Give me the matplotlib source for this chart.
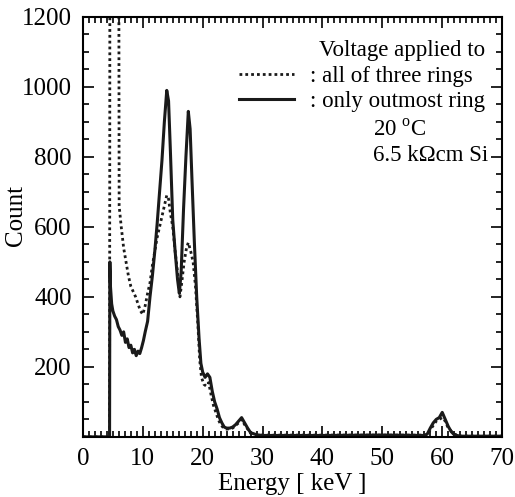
import numpy as np
import matplotlib
matplotlib.use('Agg')
import matplotlib.pyplot as plt
from matplotlib.ticker import MultipleLocator, FixedLocator

# Spectrum: voltage applied only to outmost ring (solid)
energy_outmost = [0, 4.45, 4.5, 4.6, 4.8, 5.0, 5.3, 5.6, 5.9, 6.2, 6.5, 6.8, 7.1,
                  7.4, 7.7, 8.0, 8.3, 8.6, 8.9, 9.2, 9.5, 9.8, 10.1, 10.4, 10.8,
                  11.2, 11.6, 12.0, 12.4, 12.8, 13.2, 13.6, 14.0, 14.3, 14.6,
                  15.0, 15.4, 15.8, 16.1, 16.4, 16.8, 17.2, 17.6, 17.9, 18.2,
                  18.6, 19.0, 19.4, 19.7, 20.0, 20.4, 20.8, 21.2, 21.6, 22.0,
                  22.4, 22.8, 23.2, 23.6, 24.0, 24.5, 25.0, 25.5, 26.0, 26.5,
                  27.0, 27.5, 28.0, 29.0, 30.0, 40.0, 50.0, 57.0, 57.5, 58.0,
                  58.5, 59.0, 59.5, 60.0, 60.5, 61.0, 61.5, 62.0, 63.0, 70.0]
count_outmost = [0, 0, 500, 430, 380, 360, 345, 335, 315, 305, 290, 300, 270,
                 280, 255, 262, 240, 250, 232, 245, 238, 255, 275, 300, 330,
                 400, 460, 530, 610, 700, 790, 900, 990, 960, 820,
                 620, 530, 450, 410, 470, 650, 800, 930, 880, 740,
                 560, 400, 280, 210, 185, 170, 180, 170, 130, 100,
                 80, 55, 40, 28, 25, 25, 28, 35, 45, 55,
                 40, 25, 12, 6, 4, 4, 5, 4, 8, 25,
                 40, 50, 55, 70, 50, 30, 15, 6, 2, 2]

# Voltage applied to all of three rings (dotted)
energy_all = [0, 4.45, 4.5, 6.0, 6.05, 6.4, 6.8, 7.2, 7.6, 8.0, 8.4, 8.8, 9.2,
              9.6, 10.0, 10.4, 10.8, 11.2, 11.6, 12.0, 12.4, 12.8, 13.2, 13.6,
              14.0, 14.3, 14.6, 15.0, 15.4, 15.8, 16.2, 16.5, 16.9, 17.3, 17.6,
              18.0, 18.4, 18.8, 19.2, 19.5, 19.8, 20.2, 20.6, 21.0, 21.4, 21.8,
              22.2, 22.6, 23.0, 23.5, 24.0, 25.0, 26.0, 26.5, 27.0, 28.0, 29.0,
              40.0, 57.5, 58.0, 59.0, 59.5, 60.0, 60.5, 61.0, 62.0, 63.0, 70.0]
count_all = [0, 0, 1300, 1300, 660, 600, 540, 500, 460, 430, 415, 400, 380,
             360, 350, 375, 410, 440, 490, 530, 570, 600, 630, 660,
             690, 680, 640, 600, 530, 470, 400, 440, 500, 540, 555,
             530, 500, 430, 320, 220, 170, 150, 145, 155, 120, 90,
             70, 50, 35, 25, 22, 25, 40, 50, 35, 10, 5,
             5, 5, 20, 45, 50, 55, 45, 25, 8, 2, 2]

plt.rcParams['font.family'] = ['Liberation Serif', 'DejaVu Serif']
plt.rcParams['mathtext.fontset'] = 'custom'
plt.rcParams['mathtext.rm'] = 'Liberation Serif'

fig = plt.figure(figsize=(5.15, 4.97), dpi=100)
ax = fig.add_axes([0.161, 0.121, 0.814, 0.845])

ax.plot(energy_all, count_all, color='#1a1a1a', lw=2.0, linestyle=(0, (1, 1.1)),
        label=': all of three rings')
ax.plot(energy_outmost, count_outmost, color='#1a1a1a', lw=2.2,
        label=': only outmost ring')

ax.set_xlim(0, 70)
ax.set_ylim(0, 1200)
ax.xaxis.set_major_locator(MultipleLocator(10))
ax.xaxis.set_minor_locator(MultipleLocator(1))
ax.yaxis.set_major_locator(FixedLocator([200, 400, 600, 800, 1000, 1200]))
ax.yaxis.set_minor_locator(MultipleLocator(50))
ax.tick_params(which='both', direction='in', top=True, right=True,
               labelsize=18, width=1.2, pad=8)
ax.tick_params(which='major', length=8)
ax.tick_params(which='minor', length=4)
for sp in ax.spines.values():
    sp.set_linewidth(1.5)

ax.set_xlabel('Energy [ keV ]', fontsize=18, labelpad=2)
ax.set_ylabel('Count', fontsize=18)
ax.yaxis.set_label_coords(-0.133, 0.526)

leg = ax.legend(loc='upper right', bbox_to_anchor=(0.96, 0.945),
                title='Voltage applied to', alignment='right', frameon=False,
                fontsize=16.5, title_fontsize=16.5, handlelength=2.4,
                handletextpad=0.7, labelspacing=0.2, borderpad=0,
                borderaxespad=0)

ax.text(0.692, 0.73, '20 $^{\\rm o}$C', transform=ax.transAxes, fontsize=16.5,
        va='center', ha='left')
ax.text(0.692, 0.67, '6.5 k\u03a9cm Si', transform=ax.transAxes, fontsize=16.5,
        va='center', ha='left')

fig.savefig('out.png', dpi=100)
